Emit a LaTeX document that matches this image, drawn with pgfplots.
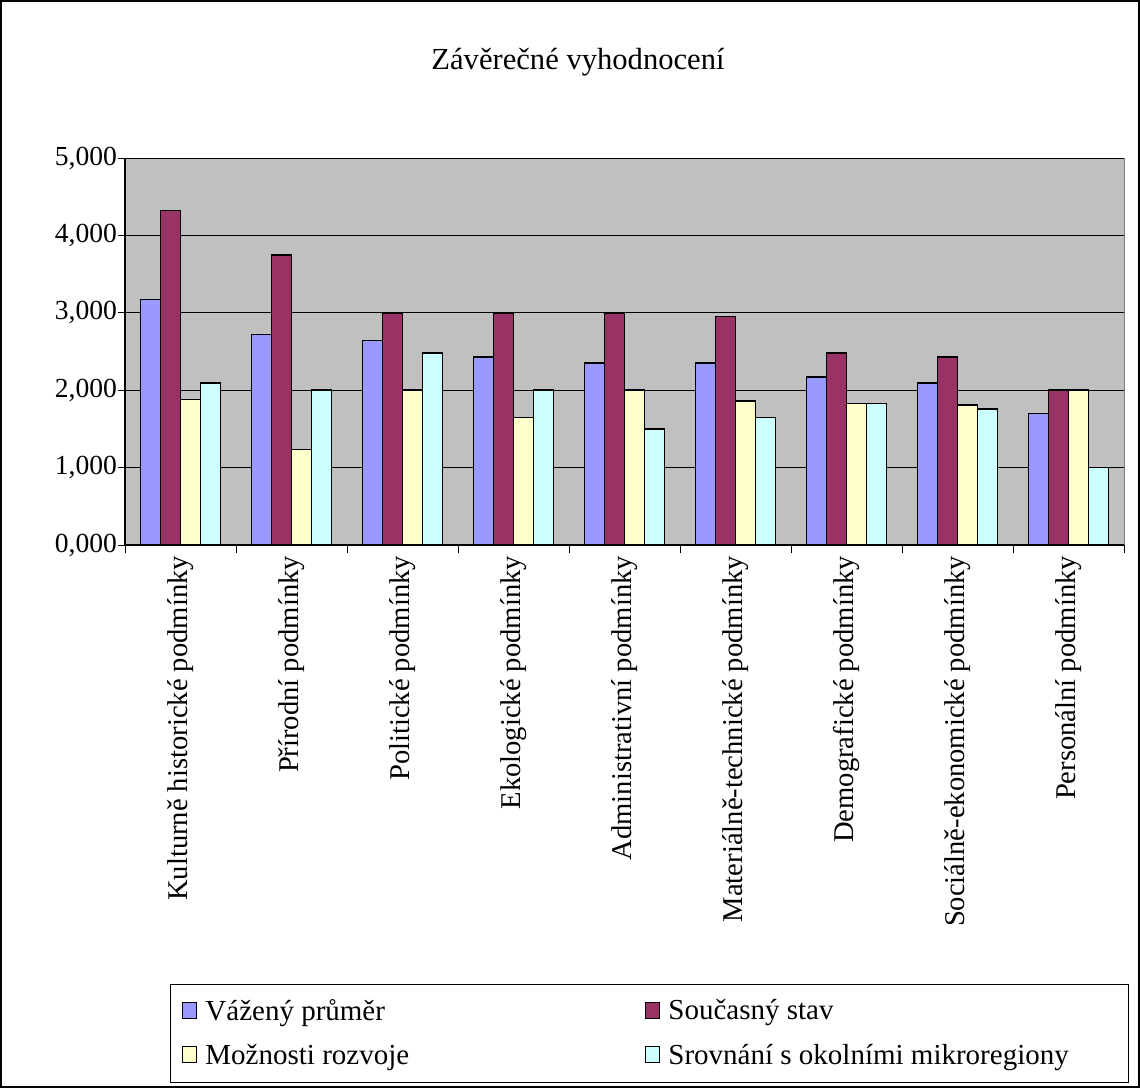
\documentclass[border=0pt]{standalone}
\usepackage{pgfplots}
\pgfplotsset{compat=1.18}
\usepackage{fontspec}
\setmainfont{Liberation Serif}
\definecolor{bggray}{HTML}{C0C0C0}
\definecolor{cblue}{HTML}{9999FF}
\definecolor{cmaroon}{HTML}{993366}
\definecolor{cyellow}{HTML}{FFFFCC}
\definecolor{ccyan}{HTML}{CCFFFF}
\begin{document}
\begin{tikzpicture}
\useasboundingbox (0,0) rectangle (570pt,544pt);
\draw[black, line width=1pt] (0.5pt,0.5pt) rectangle (569.5pt,543.5pt);
\node[font=\fontsize{15.3}{18}\selectfont] at (289pt,513pt) {Závěrečné vyhodnocení};
\begin{axis}[
  at={(62.5pt,271.5pt)}, anchor=south west,
  scale only axis, width=499.5pt, height=193.5pt,
  ybar=0pt, bar width=10pt,
  xmin=-0.5, xmax=8.5, ymin=0, ymax=5,
  ytick={0,1,2,3,4,5},
  xtick={0,...,8},
  xticklabels={Kulturně historické podmínky, Přírodní podmínky, Politické podmínky, Ekologické podmínky, Administrativní podmínky, Materiálně-technické podmínky, Demografické podmínky, Sociálně-ekonomické podmínky, Personální podmínky},
  minor xtick={-0.5,0.5,...,8.5},
  tick align=outside,
  major tick length=3.5pt, minor tick length=4pt,
  major x tick style={draw=none},
  tick style={black, line width=0.5pt},
  axis x line*=bottom, axis y line*=left,
  axis line style={-, black, line width=0.75pt},
  axis background/.style={fill=bggray, draw=gray},
  ymajorgrids, major grid style={black, line width=0.5pt},
  xticklabel shift=-1.5pt,
  xticklabel style={rotate=90, anchor=east, font=\fontsize{14.3}{17}\selectfont},
  yticklabel style={xshift=3pt, font=\fontsize{13.8}{16}\selectfont, /pgf/number format/.cd, fixed, fixed zerofill, precision=3, use comma, assume math mode=true},
  legend columns=2,
  legend style={at={(0.045,-1.134)}, anchor=north west, draw=black, line width=0.5pt, fill=white,
    font=\fontsize{14.5}{17}\selectfont, row sep=6.5pt, inner xsep=6pt, inner ysep=5.5pt},
  legend cell align=left,
  legend image code/.code={\draw[#1, draw=black, line width=0.5pt] (0pt,-3.5pt) rectangle (7pt,4.5pt);},
  every axis plot/.append style={draw=black, line width=0.75pt},
]
\addplot[fill=cblue] coordinates {(0,3.175) (1,2.72) (2,2.64) (3,2.43) (4,2.35) (5,2.35) (6,2.17) (7,2.09) (8,1.70)};
\addplot[fill=cmaroon] coordinates {(0,4.32) (1,3.75) (2,3.0) (3,3.0) (4,3.0) (5,2.95) (6,2.48) (7,2.43) (8,2.0)};
\addplot[fill=cyellow] coordinates {(0,1.88) (1,1.235) (2,2.0) (3,1.65) (4,2.0) (5,1.86) (6,1.83) (7,1.81) (8,2.0)};
\addplot[fill=ccyan] coordinates {(0,2.09) (1,2.0) (2,2.48) (3,2.0) (4,1.50) (5,1.65) (6,1.83) (7,1.76) (8,1.0)};
\addlegendentry{\hspace{2pt}\makebox[218pt][l]{Vážený průměr}}
\addlegendentry{\hspace{2pt}\makebox[222pt][l]{Současný stav}}
\addlegendentry{\hspace{2pt}\makebox[218pt][l]{Možnosti rozvoje}}
\addlegendentry{\hspace{2pt}\makebox[222pt][l]{Srovnání s okolními mikroregiony}}
\end{axis}
\end{tikzpicture}
\end{document}
